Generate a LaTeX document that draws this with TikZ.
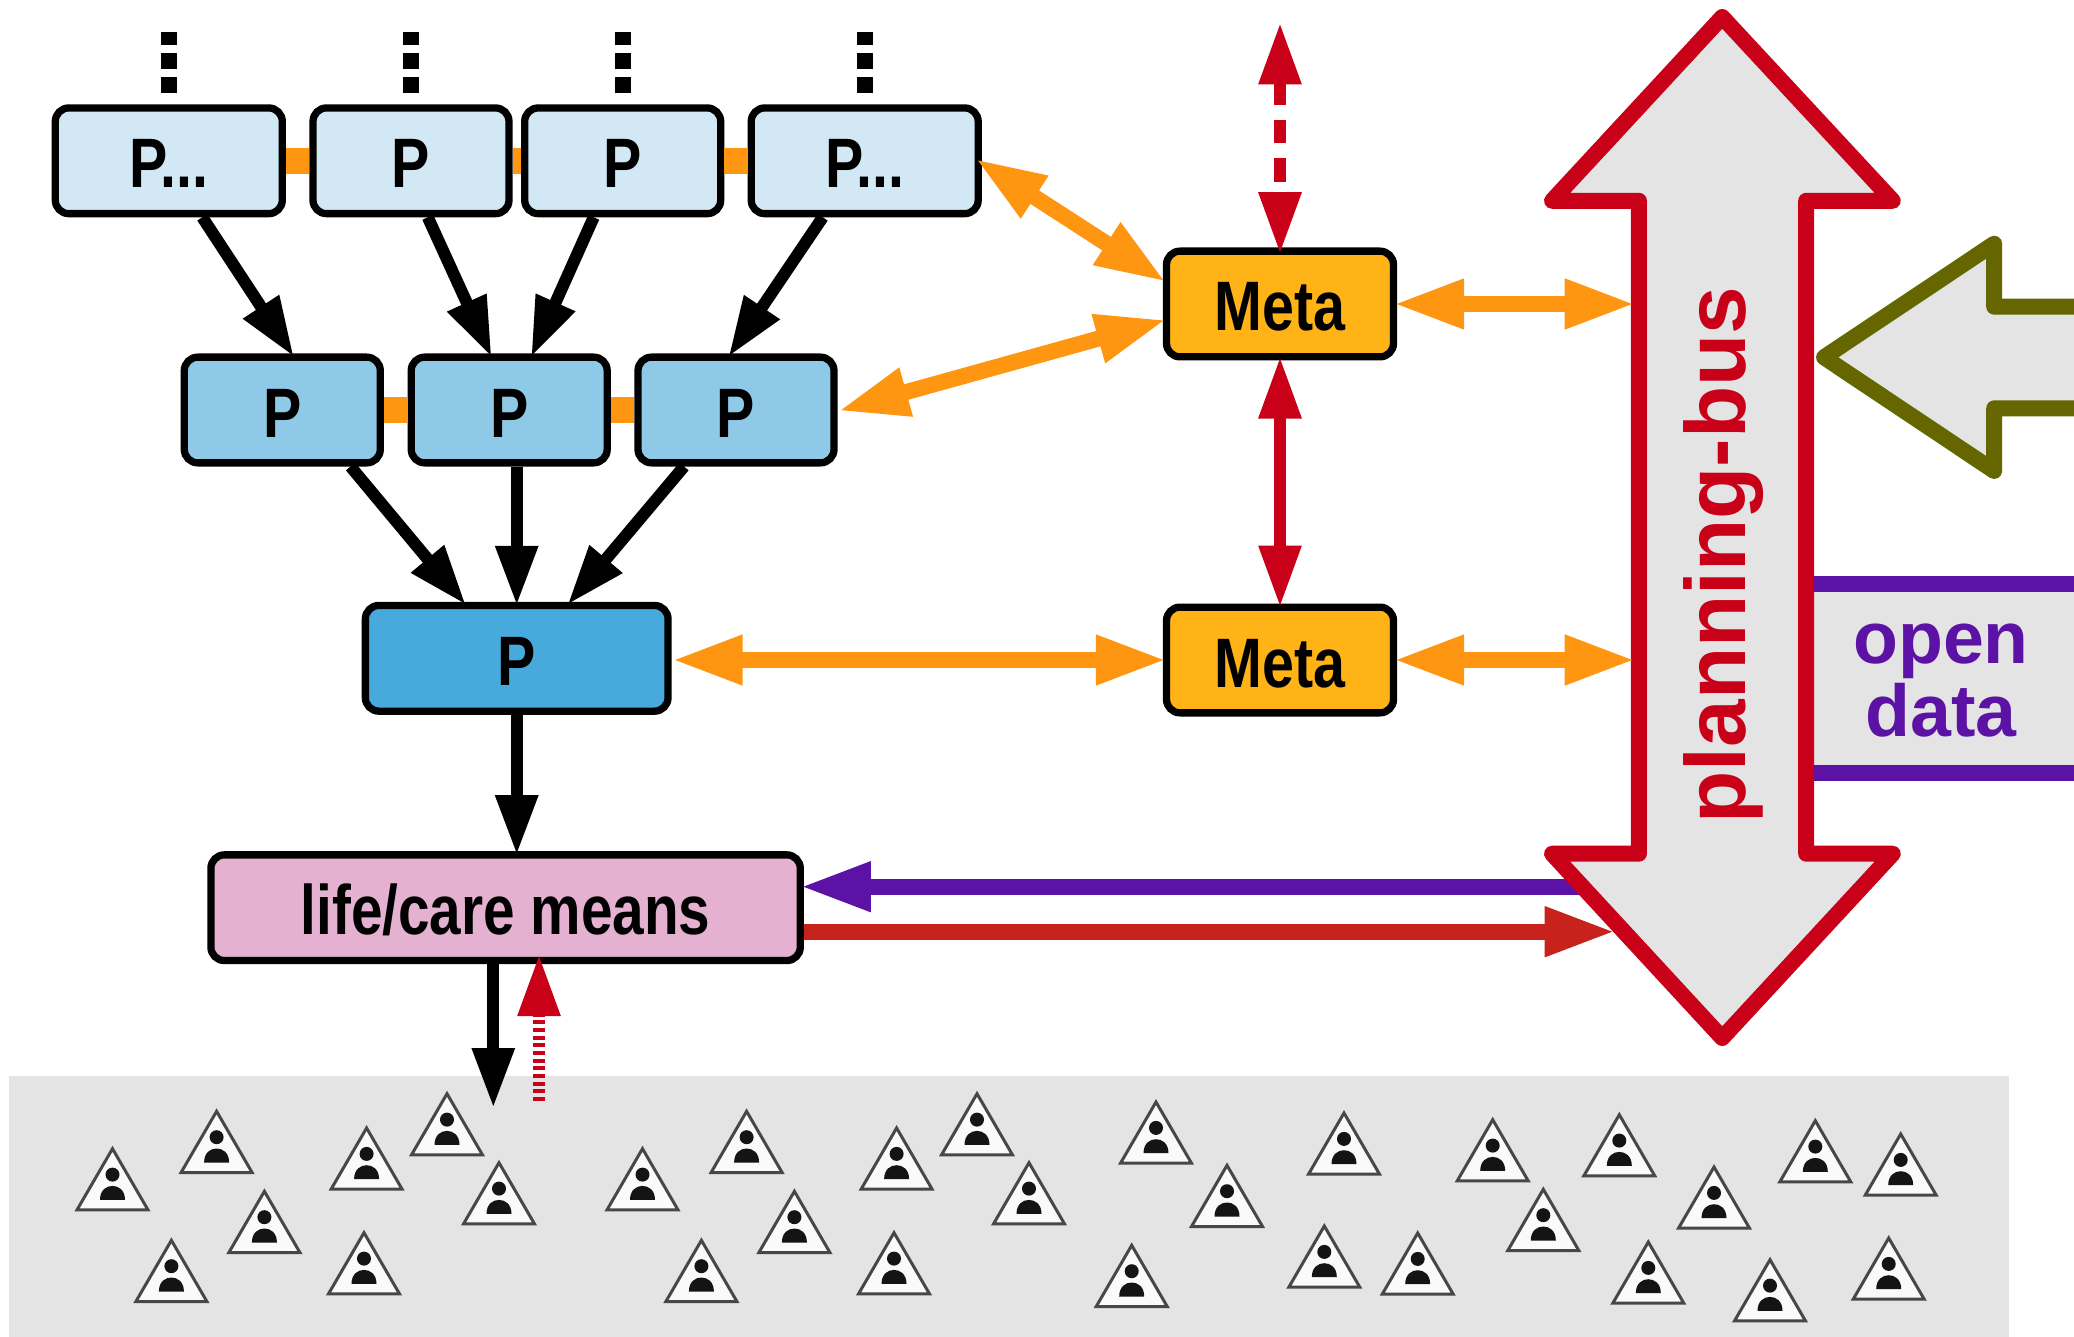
\documentclass[tikz,border=0pt]{standalone}
\usepackage{fontspec}
\usetikzlibrary{arrows.meta,calc}
\setmainfont{Liberation Sans}
\newfontfamily\narrowfont{Liberation Sans}[FakeStretch=0.82]
\newfontfamily\lifefont{Liberation Sans}[FakeStretch=0.81]
\definecolor{cpale}{HTML}{D2E9F5}
\definecolor{cmid}{HTML}{8ECAE8}
\definecolor{cdeep}{HTML}{48AADC}
\definecolor{cmeta}{HTML}{FFB316}
\definecolor{clife}{HTML}{E4B1D0}
\definecolor{corange}{HTML}{FF9611}
\definecolor{cred}{HTML}{C80018}
\definecolor{cpurple}{HTML}{5C12A5}
\definecolor{cdarkred}{HTML}{C8221C}
\definecolor{colive}{HTML}{666600}
\definecolor{cgrey}{HTML}{E4E4E4}
\tikzset{
  x=1pt,y=-1pt,
  box/.style={draw=black,line width=7.3pt,rounded corners=13.5pt,inner sep=0pt,minimum height=105.7pt,
    align=center,text height=54pt,text depth=0pt,font=\narrowfont\bfseries\fontsize{70}{70}\selectfont},
  blackarrow/.style={draw=black,line width=12pt,shorten >=-4pt,-{Triangle[length=60pt,width=40pt]}},
  redboth/.style={draw=cred,line width=12pt,shorten >=-4pt,shorten <=-4pt,{Triangle[length=62pt,width=40pt]}-{Triangle[length=62pt,width=40pt]}},
  orangeboth/.style={draw=corange,line width=16pt,shorten >=-4pt,shorten <=-4pt,{Triangle[length=71pt,width=46pt]}-{Triangle[length=71pt,width=46pt]}},
  orangebar/.style={draw=corange,line width=26.3pt},
  dots/.style={draw=black,line width=16pt,dash pattern=on 16pt off 8pt},
  person/.pic={
    \path[draw=black!72,fill=white!98!black,line width=3pt,line join=miter] (0,0.8)--(-35.5,62)--(35.5,62)--cycle;
    \path[fill=black!92] (0,26.7) circle[radius=7];
    \path[fill=black!92] (-12.5,52) .. controls (-12.5,42) and (-6,38) .. (0,38) .. controls (6,38) and (12.5,42) .. (12.5,52) -- cycle;
  },
}
\begin{document}
\begin{tikzpicture}
\useasboundingbox (0,0) rectangle (2074,1337);
\clip (0,0) rectangle (2074,1337);
% ground
\path[fill=cgrey] (9,1076) rectangle (2009,1337);
\foreach \px/\py in {112.5/1146.7,216.6/1109.3,366.6/1126,447/1091.7,499/1160.7,264.4/1189.3,364/1230.7,171.4/1238.3,
  642.5/1146.7,746.6/1109.3,896.6/1126,977/1091.7,1029/1160.7,794.4/1189.3,894/1230.7,701.4/1238.3,
  1156/1100,1227/1163.3,1131.7/1243.3,1344/1111,1324.3/1224,1417.7/1231,1492.7/1117.7,1543.3/1187.3,
  1619.3/1112.7,1714/1165,1648.3/1240,1770/1257.7,1815.3/1118.7,1900.7/1132,1888.7/1236}
  \pic at (\px,\py+1.2) {person};
% boxes
\node[box,fill=cpale,minimum width=227pt] (b1) at (168.8,160.8) {P...};
\node[box,fill=cpale,minimum width=196pt] (b2) at (411,160.8) {P};
\node[box,fill=cpale,minimum width=196pt] (b3) at (622.7,160.8) {P};
\node[box,fill=cpale,minimum width=227pt] (b4) at (864.7,160.8) {P...};
\node[box,fill=cmid,minimum width=196pt] (b5) at (282.3,410) {P};
\node[box,fill=cmid,minimum width=196pt] (b6) at (509.2,410) {P};
\node[box,fill=cmid,minimum width=196pt] (b7) at (736,410) {P};
\node[box,fill=cdeep,minimum width=302.7pt] (b8) at (516.7,658.3) {P};
\node[box,fill=clife,minimum width=589.4pt,text height=54pt,font=\lifefont\bfseries\fontsize{70}{70}\selectfont] (life) at (505.6,907.7) {life/care means};
\node[box,fill=cmeta,minimum width=227pt] (m1) at (1280,304) {Meta};
\node[box,fill=cmeta,minimum width=227pt] (m2) at (1280,660) {Meta};
% orange links
\draw[orangebar] (b1.east) -- (b2.west);
\draw[orangebar] (b2.east) -- (b3.west);
\draw[orangebar] (b3.east) -- (b4.west);
\draw[orangebar] (b5.east) -- (b6.west);
\draw[orangebar] (b6.east) -- (b7.west);
% dotted stubs
\foreach \n in {b1,b2,b3,b4}
  \draw[dots] ([yshift=11.6pt]\n.north) -- ([yshift=72.3pt]\n.north);
% black arrows
\draw[blackarrow] ([xshift=33.5pt]b1.south) -- ([xshift=9.4pt]b5.north);
\draw[blackarrow] ([xshift=16.8pt]b2.south) -- ([xshift=-19.2pt]b6.north);
\draw[blackarrow] ([xshift=-29pt]b3.south) -- ([xshift=23.5pt]b6.north);
\draw[blackarrow] ([xshift=-42pt]b4.south) -- ([xshift=-5.3pt]b7.north);
\draw[blackarrow] ([xshift=68.2pt]b5.south) -- ([xshift=-53.4pt]b8.north);
\draw[blackarrow] ([xshift=7.5pt]b6.south) -- (b8.north);
\draw[blackarrow] ([xshift=-52pt]b7.south) -- ([xshift=53.3pt]b8.north);
\draw[blackarrow] (b8.south) -- (b8.south |- life.north);
\coordinate (down) at (493.3,1104);
\draw[blackarrow] (life.south -| down) -- (down);
\coordinate (upstart) at (539,1101);
\draw[draw=cred,line width=12pt,dash pattern=on 4pt off 3.67pt,shorten >=-4pt,-{Triangle[length=62pt,width=40pt]}] (upstart) -- ([xshift=33.4pt,yshift=6pt]life.south);
% purple into life (passes under bus)
\coordinate (busleft) at (1600,886.7);
\draw[draw=cpurple,line width=16pt,shorten >=-4pt,-{Triangle[length=71pt,width=46pt]}] (busleft) -- (life.east |- busleft);
% open data band
\path[fill=cgrey] (1806,584) rectangle (2074,773);
\coordinate (ot) at (1806,584);
\coordinate (ob) at (1806,773);
\draw[cpurple,line width=16pt] (ot) -- (2074,584);
\draw[cpurple,line width=16pt] (ob) -- (2074,773);
\node[text=cpurple,font=\bfseries\fontsize{73.5}{73.5}\selectfont,anchor=base,align=center,inner sep=0pt] (opentxt) at (1941,663.7) {open};
\node[text=cpurple,font=\bfseries\fontsize{73.5}{73.5}\selectfont,anchor=base,align=center,inner sep=0pt] (datatxt) at (1941,736.7) {data};
% olive arrow
\draw[draw=colive,fill=cgrey,line width=16pt,line join=round] (2090,306.7) -- (1994.2,306.7) -- (1994.2,243.7) -- (1824,357.3) -- (1994.2,471) -- (1994.2,408.3) -- (2090,408.3);
% planning bus
\draw[draw=cred,fill=cgrey,line width=16pt,line join=round] (1722.2,17) -- (1892.8,200.8) -- (1806.2,200.8) -- (1806.2,853.7) -- (1892.8,853.7) -- (1722.2,1038) -- (1552,853.7) -- (1638.9,853.7) -- (1638.9,200.8) -- (1552,200.8) -- cycle;
\node[text=cred,font=\bfseries\fontsize{85.5}{85.5}\selectfont,rotate=90,anchor=base,inner sep=0pt] (bus) at (1745.3,555) {planning-bus};
% bus connectors
\coordinate (bust) at (1631.7,304);
\coordinate (busb) at (1631.7,660);
\draw[orangeboth] (m1.east) -- (bust);
\draw[orangeboth] (m2.east) -- (busb);
\draw[orangeboth] ([xshift=4pt]b8.east |- m2.west) -- (m2.west);
\draw[orangeboth] ([xshift=-3.4pt]b4.east) -- ([yshift=24pt]m1.west);
\draw[orangeboth] ([xshift=4pt]b7.east) -- ([yshift=-16.7pt]m1.west);
\coordinate (busr) at (1611.7,931.7);
\draw[draw=cdarkred,line width=16pt,shorten >=-4pt,-{Triangle[length=71pt,width=46pt]}] (life.east |- busr) -- (busr);
% red meta arrows
\draw[redboth] (m1.south) -- (m2.north);
\coordinate (topfree) at (1280,26.5);
\draw[draw=cred,line width=12pt,shorten >=-4pt,shorten <=-4pt,dash pattern=on 23.5pt off 15pt,{Triangle[length=62pt,width=40pt]}-{Triangle[length=62pt,width=40pt]}] (topfree) -- ([yshift=-2.7pt]m1.north);
\end{tikzpicture}
\end{document}
